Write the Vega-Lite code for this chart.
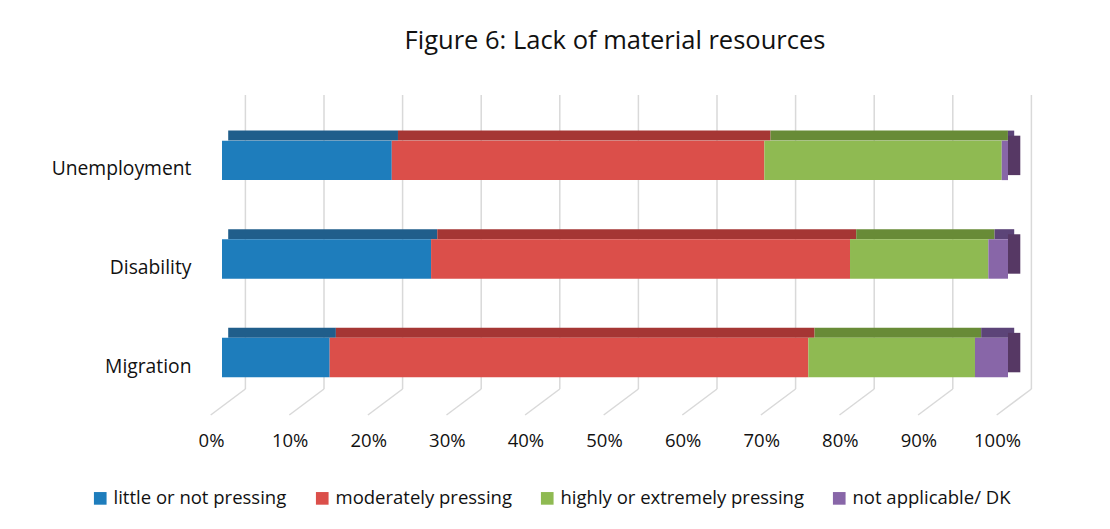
{
  "$schema": "https://vega.github.io/schema/vega-lite/v6.json",
  "width": 786,
  "height": 294,
  "autosize": {"type": "none"},
  "padding": {"left": 222, "top": 95, "right": 102, "bottom": 140},
  "background": "#ffffff",
  "title": {
    "text": "Figure 6: Lack of material resources",
    "font": "Open Sans",
    "fontSize": 25.5,
    "fontWeight": "normal",
    "color": "#111111",
    "anchor": "middle",
    "offset": 40
  },
  "config": {
    "view": {"stroke": null},
    "font": "Open Sans"
  },
  "datasets": {
    "bars": [
      {"group": "Unemployment", "category": "little or not pressing", "order": 1, "value": 21.6},
      {"group": "Unemployment", "category": "moderately pressing", "order": 2, "value": 47.4},
      {"group": "Unemployment", "category": "highly or extremely pressing", "order": 3, "value": 30.2},
      {"group": "Unemployment", "category": "not applicable/ DK", "order": 4, "value": 0.8},
      {"group": "Disability", "category": "little or not pressing", "order": 1, "value": 26.6},
      {"group": "Disability", "category": "moderately pressing", "order": 2, "value": 53.3},
      {"group": "Disability", "category": "highly or extremely pressing", "order": 3, "value": 17.6},
      {"group": "Disability", "category": "not applicable/ DK", "order": 4, "value": 2.5},
      {"group": "Migration", "category": "little or not pressing", "order": 1, "value": 13.7},
      {"group": "Migration", "category": "moderately pressing", "order": 2, "value": 60.9},
      {"group": "Migration", "category": "highly or extremely pressing", "order": 3, "value": 21.2},
      {"group": "Migration", "category": "not applicable/ DK", "order": 4, "value": 4.2}
    ],
    "ticks": [
      {"tick": 0}, {"tick": 10}, {"tick": 20}, {"tick": 30}, {"tick": 40}, {"tick": 50},
      {"tick": 60}, {"tick": 70}, {"tick": 80}, {"tick": 90}, {"tick": 100}
    ],
    "ends": [
      {"group": "Unemployment", "end": 100},
      {"group": "Disability", "end": 100},
      {"group": "Migration", "end": 100}
    ]
  },
  "resolve": {"scale": {"color": "independent"}},
  "layer": [
    {
      "data": {"name": "ticks"},
      "mark": {"type": "rule", "color": "#d9d9d9", "strokeWidth": 1.5, "xOffset": 23.4},
      "encoding": {
        "x": {"field": "tick", "type": "quantitative", "scale": {"domain": [0, 100], "nice": false}}
      }
    },
    {
      "data": {"name": "ticks"},
      "mark": {"type": "rule", "color": "#d9d9d9", "strokeWidth": 1.5, "xOffset": 23.4, "x2Offset": -11.3, "y2Offset": 26},
      "encoding": {
        "x": {"field": "tick", "type": "quantitative"},
        "x2": {"field": "tick"},
        "y": {"value": "height"},
        "y2": {"value": "height"}
      }
    },
    {
      "data": {"name": "bars"},
      "mark": {"type": "bar", "height": 10, "yOffset": -24.8, "xOffset": 6.2, "x2Offset": 6.2},
      "encoding": {
        "y": {"field": "group", "type": "nominal", "sort": ["Unemployment", "Disability", "Migration"],
              "scale": {"paddingInner": 0.6, "paddingOuter": 0.291, "align": 0.796}},
        "x": {"field": "value", "type": "quantitative", "stack": true},
        "order": {"field": "order"},
        "color": {"field": "category", "type": "nominal", "legend": null,
          "scale": {"domain": ["little or not pressing", "moderately pressing", "highly or extremely pressing", "not applicable/ DK"],
                    "range": ["#205e8b", "#a53634", "#688b37", "#5c4478"]}}
      }
    },
    {
      "data": {"name": "ends"},
      "mark": {"type": "bar", "color": "#563864", "x2Offset": 12.3, "yOffset": -5},
      "encoding": {
        "y": {"field": "group", "type": "nominal", "sort": ["Unemployment", "Disability", "Migration"]},
        "x": {"field": "end", "type": "quantitative"},
        "x2": {"field": "end"}
      }
    },
    {
      "data": {"name": "bars"},
      "mark": {"type": "bar"},
      "encoding": {
        "y": {"field": "group", "type": "nominal", "sort": ["Unemployment", "Disability", "Migration"],
              "title": null,
              "axis": {"domain": false, "ticks": false, "labelPadding": 31, "labelOffset": 9,
                       "labelFontSize": 19.3, "labelColor": "#111111", "labelFont": "Open Sans"}},
        "x": {"field": "value", "type": "quantitative", "stack": true, "title": null,
              "axis": {"domain": false, "ticks": false, "grid": false, "values": [0,10,20,30,40,50,60,70,80,90,100],
                       "labelExpr": "datum.value + '%'", "labelOffset": -11, "labelPadding": 42,
                       "labelFontSize": 18.5, "labelColor": "#111111", "labelFont": "Open Sans", "labelFlush": false}},
        "order": {"field": "order"},
        "color": {"field": "category", "type": "nominal",
          "scale": {"domain": ["little or not pressing", "moderately pressing", "highly or extremely pressing", "not applicable/ DK"],
                    "range": ["#1e7dbc", "#db4f4a", "#8fba52", "#8866a8"]},
          "legend": {"title": null, "orient": "none", "direction": "horizontal", "legendX": -131, "legendY": 394,
                     "symbolType": "square", "symbolSize": 160, "symbolStrokeWidth": 0, "labelFontSize": 18.5,
                     "labelFont": "Open Sans", "labelColor": "#111111", "columnPadding": 26, "labelOffset": 4,
                     "labelLimit": 0, "padding": 0, "columns": 4}}
      }
    }
  ]
}
